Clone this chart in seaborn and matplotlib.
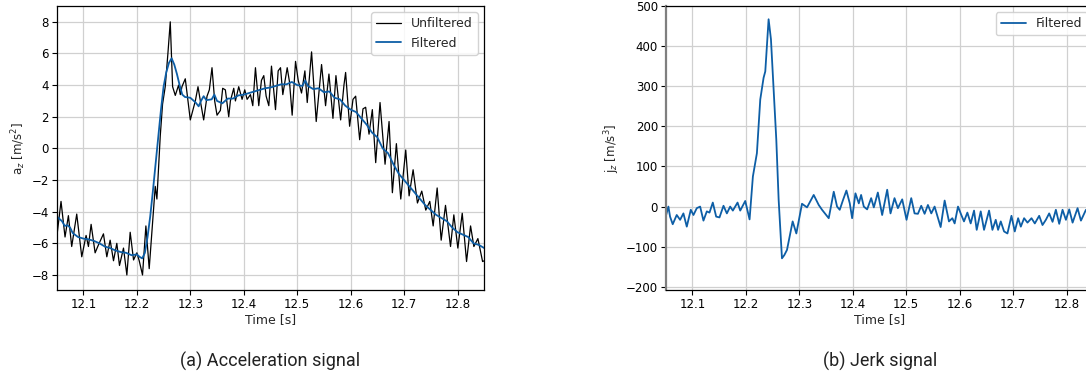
import numpy as np
import pandas as pd
import matplotlib
matplotlib.use("Agg")
import matplotlib.pyplot as plt
import seaborn as sns

# ---------------- data ----------------
acc_raw_t = [12.0500, 12.0581, 12.0656, 12.0719, 12.0781, 12.0875, 12.0969, 12.1050, 12.1094, 12.1144,
             12.1219, 12.1281, 12.1375, 12.1438, 12.1500, 12.1563, 12.1625, 12.1675, 12.1750, 12.1813,
             12.1875, 12.1938, 12.2000, 12.2044, 12.2106, 12.2169, 12.2231, 12.2344, 12.2375, 12.2438,
             12.2481, 12.2531, 12.2581, 12.2625, 12.2669, 12.2719, 12.2781, 12.2813, 12.2844, 12.2906,
             12.3000, 12.3094, 12.3144, 12.3188, 12.3250, 12.3313, 12.3356, 12.3406, 12.3456, 12.3500,
             12.3563, 12.3606, 12.3656, 12.3719, 12.3750, 12.3813, 12.3844, 12.3906, 12.3969, 12.4019,
             12.4063, 12.4125, 12.4169, 12.4219, 12.4281, 12.4331, 12.4375, 12.4419, 12.4469, 12.4519,
             12.4594, 12.4644, 12.4688, 12.4731, 12.4813, 12.4856, 12.4906, 12.4969, 12.5019, 12.5081,
             12.5144, 12.5188, 12.5269, 12.5356, 12.5456, 12.5531, 12.5594, 12.5669, 12.5725, 12.5813,
             12.5875, 12.5906, 12.5981, 12.6044, 12.6094, 12.6169, 12.6231, 12.6281, 12.6344, 12.6406,
             12.6469, 12.6550, 12.6644, 12.6719, 12.6781, 12.6856, 12.6938, 12.7031, 12.7094, 12.7169,
             12.7250, 12.7331, 12.7406, 12.7481, 12.7544, 12.7619, 12.7694, 12.7775, 12.7869, 12.7931,
             12.8006, 12.8088, 12.8169, 12.8244, 12.8306, 12.8381, 12.8469, 12.8500]
acc_raw_v = [-5.65, -3.35, -5.6, -4.25, -6.2, -4.15, -6.85, -5.5, -6.2, -4.8,
             -6.6, -6.1, -5.4, -6.85, -5.8, -7.1, -6.0, -7.4, -6.3, -8.0,
             -5.3, -7.05, -6.6, -7.1, -8.0, -4.9, -7.6, -2.4, -3.2, 0.8,
             2.8, 3.9, 6.0, 8.0, 3.9, 3.35, 4.0, 3.4, 3.9, 4.4,
             1.8, 3.0, 3.9, 3.0, 1.8, 3.3, 3.7, 5.1, 3.0, 2.1,
             2.4, 3.8, 3.7, 2.0, 3.0, 3.8, 3.0, 3.9, 3.1, 3.7,
             3.1, 3.4, 2.7, 5.1, 2.7, 4.3, 4.6, 3.3, 2.7, 5.2,
             2.45, 4.9, 5.1, 3.4, 5.1, 4.2, 2.1, 5.5, 4.3, 3.5,
             4.9, 2.9, 6.1, 1.7, 5.3, 2.7, 4.7, 1.9, 4.6, 1.8,
             4.0, 4.8, 1.4, 3.1, 3.3, 0.55, 2.5, 2.6, 0.9, 2.45,
             -0.9, 2.9, -1.0, 1.7, -2.8, 0.3, -3.2, -0.1, -3.0, -1.35,
             -3.45, -2.7, -3.9, -3.35, -4.9, -2.5, -5.8, -3.6, -6.2, -4.2,
             -6.3, -4.1, -7.15, -4.9, -6.2, -5.7, -7.15, -7.1]

acc_filt_t = [12.05, 12.06, 12.065, 12.07, 12.075, 12.08, 12.09, 12.10, 12.11, 12.12,
              12.13, 12.14, 12.15, 12.16, 12.17, 12.18, 12.19, 12.20, 12.205, 12.21,
              12.215, 12.22, 12.225, 12.23, 12.235, 12.24, 12.245, 12.25, 12.255, 12.26,
              12.265, 12.27, 12.275, 12.28, 12.285, 12.29, 12.30, 12.31, 12.3156, 12.32,
              12.325, 12.33, 12.34, 12.345, 12.35, 12.36, 12.37, 12.38, 12.39, 12.40,
              12.41, 12.42, 12.43, 12.44, 12.45, 12.46, 12.47, 12.48, 12.49, 12.50,
              12.51, 12.515, 12.52, 12.53, 12.54, 12.55, 12.56, 12.57, 12.58, 12.59,
              12.60, 12.61, 12.62, 12.63, 12.64, 12.65, 12.66, 12.67, 12.68, 12.69,
              12.70, 12.71, 12.72, 12.73, 12.74, 12.75, 12.76, 12.77, 12.78, 12.79,
              12.80, 12.81, 12.82, 12.83, 12.84, 12.85]
acc_filt_v = [-4.3, -4.6, -4.9, -4.85, -5.0, -5.35, -5.6, -5.7, -5.75, -5.85,
              -6.0, -6.2, -6.3, -6.45, -6.55, -6.6, -6.75, -6.7, -6.85, -6.95,
              -6.6, -5.6, -4.3, -2.7, -1.0, 0.7, 2.4, 3.9, 4.8, 5.4,
              5.7, 5.3, 4.7, 4.0, 3.4, 3.25, 3.2, 2.9, 2.66, 3.0,
              3.3, 3.05, 3.1, 3.4, 3.0, 2.85, 3.15, 3.15, 3.35, 3.4,
              3.5, 3.6, 3.7, 3.8, 3.85, 3.95, 4.05, 4.05, 4.2, 4.0,
              3.95, 4.3, 3.95, 3.75, 3.8, 3.55, 3.6, 3.2, 3.1, 2.7,
              2.45, 2.3, 1.9, 1.5, 1.0, 0.7, 0.0, -0.3, -1.0, -1.6,
              -2.0, -2.4, -2.8, -3.2, -3.6, -3.9, -4.2, -4.4, -4.6, -5.0,
              -5.3, -5.45, -5.6, -6.0, -6.1, -6.3]

jerk_t = [12.0500, 12.0550, 12.0581, 12.0631, 12.0706, 12.0769, 12.0831, 12.0894, 12.0969, 12.1019,
          12.1081, 12.1144, 12.1206, 12.1269, 12.1319, 12.1381, 12.1444, 12.1506, 12.1581, 12.1644,
          12.1706, 12.1756, 12.1844, 12.1894, 12.1988, 12.2069, 12.2131, 12.2206, 12.2269, 12.2331,
          12.2363, 12.2425, 12.2469, 12.2519, 12.2569, 12.2613, 12.2675, 12.2719, 12.2769, 12.2875,
          12.2944, 12.3050, 12.3144, 12.3269, 12.3363, 12.3425, 12.3550, 12.3644, 12.3706, 12.3756,
          12.3819, 12.3881, 12.3944, 12.3988, 12.4050, 12.4113, 12.4156, 12.4206, 12.4269, 12.4344,
          12.4394, 12.4469, 12.4550, 12.4644, 12.4706, 12.4781, 12.4844, 12.4925, 12.5006, 12.5094,
          12.5156, 12.5219, 12.5281, 12.5344, 12.5406, 12.5469, 12.5531, 12.5644, 12.5719, 12.5800,
          12.5863, 12.5906, 12.5969, 12.6031, 12.6081, 12.6144, 12.6206, 12.6269, 12.6319, 12.6394,
          12.6456, 12.6550, 12.6613, 12.6675, 12.6719, 12.6769, 12.6831, 12.6894, 12.6969, 12.7031,
          12.7094, 12.7144, 12.7206, 12.7269, 12.7344, 12.7406, 12.7488, 12.7550, 12.7613, 12.7675,
          12.7738, 12.7800, 12.7863, 12.7925, 12.7988, 12.8050, 12.8113, 12.8206, 12.8269, 12.8363,
          12.8450]
jerk_v = [-25, 0, -25, -44, -21, -33, -17, -50, -8, -21,
          -4, 0, -35, -12, -15, 10, -25, -27, 2, -17,
          0, -10, 10, -10, 14, -32, 75, 133, 267, 321,
          337, 467, 417, 292, 167, 17, -129, -121, -108, -37,
          -67, 7, -2, 29, 4, -8, -29, 37, 0, -8,
          17, 40, 8, -29, 33, 8, 29, 0, -7, 21,
          -2, 35, -21, 42, -17, 21, -4, 18, -33, 21,
          -17, -18, 2, -18, 4, -17, 0, -51, 15, -37,
          -29, -42, 0, -21, -37, -15, -42, -10, -58, -12,
          -58, -10, -58, -33, -58, -37, -62, -67, -23, -62,
          -29, -50, -29, -40, -29, -42, -23, -46, -33, -17,
          -38, -8, -43, -8, -33, -7, -40, -4, -35, -8,
          -20]

xticks = [12.1, 12.2, 12.3, 12.4, 12.5, 12.6, 12.7, 12.8]
acc_yticks = [-8, -6, -4, -2, 0, 2, 4, 6, 8]
jerk_yticks = [-200, -100, 0, 100, 200, 300, 400, 500]

# ---------------- style ----------------
sns.set_style("whitegrid", {"grid.color": "#d0d0d0", "axes.edgecolor": "black",
                            "xtick.bottom": True, "ytick.left": True})
plt.rcParams["font.family"] = ["DejaVu Sans"]
plt.rcParams["font.size"] = 8.5
BLUE = "#0d5ea6"

fig = plt.figure(figsize=(10.86, 3.80), dpi=100)
ax1 = fig.add_axes([0.0522, 0.2368, 0.3937, 0.7474])
ax2 = fig.add_axes([0.6130, 0.2368, 0.3937, 0.7474])

df_raw = pd.DataFrame({"t": acc_raw_t, "v": acc_raw_v})
df_filt = pd.DataFrame({"t": acc_filt_t, "v": acc_filt_v})
df_jerk = pd.DataFrame({"t": jerk_t, "v": jerk_v})

sns.lineplot(data=df_raw, x="t", y="v", ax=ax1, color="black", lw=0.9,
             estimator=None, sort=False, label="Unfiltered")
sns.lineplot(data=df_filt, x="t", y="v", ax=ax1, color=BLUE, lw=1.3,
             estimator=None, sort=False, label="Filtered")
sns.lineplot(data=df_jerk, x="t", y="v", ax=ax2, color=BLUE, lw=1.3,
             estimator=None, sort=False, label="Filtered")

for ax in (ax1, ax2):
    ax.set_xlim(12.05, 12.85)
    ax.set_xticks(xticks)
    ax.set_xticklabels([f"{x:.1f}" for x in xticks])
    ax.set_xlabel("Time [s]", fontsize=9, labelpad=2)
    ax.tick_params(axis="both", labelsize=8.5, length=3.5, width=0.8, colors="black", pad=2)
    ax.grid(True, color="#d0d0d0", lw=0.9)
    for s in ax.spines.values():
        s.set_color("black")
        s.set_linewidth(0.9)
    ax.legend(loc="upper right", fontsize=9, frameon=True, edgecolor="#cccccc",
              framealpha=0.85, fancybox=True, borderpad=0.4, handlelength=2.0)

ax1.set_ylim(-8.95, 9.0)
ax1.set_yticks(acc_yticks)
ax1.set_ylabel("a$_z$ [m/s$^2$]", fontsize=8.5, labelpad=3)

ax2.set_ylim(-208, 500)
ax2.set_yticks(jerk_yticks)
ax2.set_ylabel("j$_z$ [m/s$^3$]", fontsize=8.5, labelpad=3)
ax2.spines["left"].set_color("#7f7f7f")
ax2.spines["left"].set_linewidth(1.6)

fig.text(270 / 1086, 1 - 361 / 380, "(a) Acceleration signal", ha="center", va="center",
         fontsize=13, family=["Roboto", "DejaVu Sans"], color="#222222")
fig.text(880 / 1086, 1 - 361 / 380, "(b) Jerk signal", ha="center", va="center",
         fontsize=13, family=["Roboto", "DejaVu Sans"], color="#222222")

fig.savefig("out.png", dpi=100)
